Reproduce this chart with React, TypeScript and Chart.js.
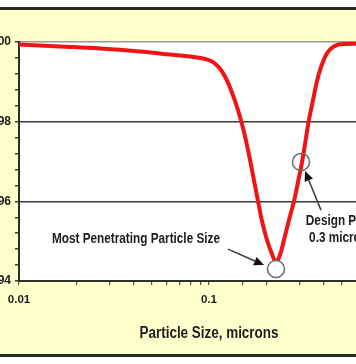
import React, { useEffect, useRef } from "react";
import { Chart, registerables } from "chart.js";
Chart.register(...registerables);

const FONT = '"Liberation Sans", Arial, sans-serif';
const NARROW = 0.84; // horizontal compression to mimic a condensed bold face

// Particle size (microns) and collection efficiency (%)
const particleSizes = [0.01, 0.01644, 0.02669, 0.04335, 0.06233, 0.07943, 0.09299, 0.10246, 0.10885, 0.11565, 0.12288, 0.13055, 0.13871, 0.1456, 0.15283, 0.16042, 0.17042, 0.18108, 0.19007, 0.20195, 0.21456, 0.22519, 0.23636, 0.24808, 0.26367, 0.28023, 0.29413, 0.30872, 0.32209, 0.334, 0.35275, 0.37025, 0.38862, 0.41284, 0.43857, 0.47178, 0.51348, 0.59386, 1.0];
const efficiency = [99.937, 99.887, 99.837, 99.762, 99.686, 99.636, 99.586, 99.523, 99.435, 99.297, 99.084, 98.795, 98.444, 98.117, 97.74, 97.288, 96.66, 96.008, 95.506, 95.029, 94.677, 94.476, 94.652, 95.029, 95.531, 96.008, 96.485, 96.987, 97.515, 97.991, 98.544, 99.021, 99.373, 99.674, 99.837, 99.925, 99.95, 99.955, 99.955];

// Marker circles: most penetrating particle size, design point
const markerSizes = [0.2252, 0.305];
const markerValues = [94.3, 96.99];

const yTickValues = [94, 94.4, 94.8, 95.2, 95.6, 96, 96.4, 96.8, 97.2, 97.6, 98, 98.4, 98.8, 99.2, 99.6, 100];
const yTickLabels = ["94", "96", "98", "100"];
const xTickLabels = ["0.01", "0.1", "1"];

const xTitle = "Particle Size, microns";
const mppsLabel = "Most Penetrating Particle Size";
const designLabels = ["Design Point", "0.3 microns"];

// annotation anchors in data coordinates [x, y]
const mppsLabelPos = [0.01492, 95.05];
const mppsArrow = [0.1259, 94.8, 0.1948, 94.4];
const designLabelPos = [0.5, 95.51, 95.08];
const designArrow = [0.3885, 95.78, 0.3202, 96.76];

function near(a: number, b: number) {
  return Math.abs(a - b) < 1e-6;
}

function narrowText(ctx: CanvasRenderingContext2D, text: string, x: number, y: number, align: "left" | "center") {
  ctx.save();
  ctx.translate(x, y);
  ctx.scale(NARROW, 1);
  ctx.textAlign = align;
  ctx.fillText(text, 0, 0);
  ctx.restore();
}

function drawArrow(ctx: CanvasRenderingContext2D, x1: number, y1: number, x2: number, y2: number) {
  const ang = Math.atan2(y2 - y1, x2 - x1);
  const len = 10;
  const hw = 4.5;
  const bx = x2 - Math.cos(ang) * len;
  const by = y2 - Math.sin(ang) * len;
  ctx.beginPath();
  ctx.moveTo(x1, y1);
  ctx.lineTo(bx, by);
  ctx.stroke();
  ctx.beginPath();
  ctx.moveTo(x2, y2);
  ctx.lineTo(bx - Math.sin(ang) * hw, by + Math.cos(ang) * hw);
  ctx.lineTo(bx + Math.sin(ang) * hw, by - Math.cos(ang) * hw);
  ctx.closePath();
  ctx.fill();
}

const bgPlugin = {
  id: "plotBg",
  beforeDraw(chart: any) {
    const { ctx, chartArea } = chart;
    ctx.save();
    ctx.fillStyle = "#ffffff";
    ctx.fillRect(chartArea.left, chartArea.top, chartArea.right - chartArea.left, chartArea.bottom - chartArea.top);
    ctx.restore();
  },
};

const annotPlugin = {
  id: "annot",
  afterDatasetsDraw(chart: any) {
    const { ctx, chartArea } = chart;
    const x = chart.scales.x;
    const y = chart.scales.y;
    ctx.save();
    ctx.fillStyle = "#1c1c1c";
    ctx.textBaseline = "middle";
    // axis title
    ctx.font = `bold 16px ${FONT}`;
    narrowText(ctx, xTitle, (chartArea.left + chartArea.right) / 2, chartArea.bottom + 53, "center");
    // annotations
    ctx.font = `bold 14px ${FONT}`;
    narrowText(ctx, mppsLabel, x.getPixelForValue(mppsLabelPos[0]), y.getPixelForValue(mppsLabelPos[1]), "left");
    const dx = x.getPixelForValue(designLabelPos[0]);
    narrowText(ctx, designLabels[0], dx, y.getPixelForValue(designLabelPos[1]), "center");
    narrowText(ctx, designLabels[1], dx, y.getPixelForValue(designLabelPos[2]), "center");
    ctx.strokeStyle = "#3a3a3a";
    ctx.fillStyle = "#111111";
    ctx.lineWidth = 1.5;
    drawArrow(ctx, x.getPixelForValue(mppsArrow[0]), y.getPixelForValue(mppsArrow[1]), x.getPixelForValue(mppsArrow[2]), y.getPixelForValue(mppsArrow[3]));
    drawArrow(ctx, x.getPixelForValue(designArrow[0]), y.getPixelForValue(designArrow[1]), x.getPixelForValue(designArrow[2]), y.getPixelForValue(designArrow[3]));
    ctx.restore();
  },
};

export default function App() {
  const ref = useRef<HTMLCanvasElement>(null);
  useEffect(() => {
    if (!ref.current) return;
    Chart.defaults.font.family = FONT;
    const chart = new Chart(ref.current, {
      type: "line",
      data: {
        datasets: [
          {
            data: markerSizes.map((v, i) => ({ x: v, y: markerValues[i] })),
            showLine: false,
            pointRadius: 8.5,
            pointBorderWidth: 1.5,
            pointBorderColor: "#6a6a6a",
            pointBackgroundColor: ["#ffffff", "rgba(255,255,255,0)"],
            order: 0,
          },
          {
            data: particleSizes.map((v, i) => ({ x: v, y: efficiency[i] })),
            borderColor: "#f01414",
            borderWidth: 4,
            pointRadius: 0,
            tension: 0.35,
            fill: false,
            order: 1,
          },
        ],
      },
      options: {
        animation: false,
        responsive: false,
        layout: { padding: { top: 32, right: 20, left: 0, bottom: 0 } },
        plugins: { legend: { display: false }, tooltip: { enabled: false } },
        scales: {
          x: {
            type: "logarithmic",
            min: 0.01,
            max: 1,
            afterFit: (s: any) => {
              s.height = 73;
            },
            grid: { drawOnChartArea: false, tickLength: 4, tickColor: "#555", lineWidth: 1.2 },
            border: { color: "#2e2e2e", width: 2 },
            ticks: {
              autoSkip: false,
              maxRotation: 0,
              padding: 8,
              color: "#1c1c1c",
              font: { size: 11.5, weight: "bold", family: FONT },
              callback: (v: any) => {
                const s = String(Number(v));
                return xTickLabels.includes(s) ? s : "";
              },
            },
          },
          y: {
            min: 94,
            max: 100,
            afterFit: (s: any) => {
              s.width = 40;
            },
            afterBuildTicks: (s: any) => {
              s.ticks = yTickValues.map((v) => ({ value: v }));
            },
            grid: {
              color: (c: any) => {
                const v = c.tick ? c.tick.value : 0;
                if (near(v, 100)) return "#9a9a9a";
                if (near(v, 98) || near(v, 96)) return "#3a3a3a";
                return "rgba(0,0,0,0)";
              },
              lineWidth: 1.5,
              tickColor: "#3a3a3a",
              tickLength: 4,
            },
            border: { color: "#2e2e2e", width: 2 },
            ticks: {
              autoSkip: false,
              padding: 4,
              color: "#1c1c1c",
              font: { size: 12, weight: "bold", family: FONT },
              callback: (v: any) => {
                const n = Number(v);
                const s = String(Math.round(n));
                return near(n, Math.round(n)) && yTickLabels.includes(s) ? s : "";
              },
            },
          },
        },
      },
      plugins: [bgPlugin, annotPlugin],
    } as any);
    return () => chart.destroy();
  }, []);

  return (
    <div style={{ position: "fixed", left: 0, top: 0, width: 356, height: 364, overflow: "hidden", background: "#ffffff" }}>
      <div
        style={{
          position: "absolute",
          left: 0,
          top: 7,
          width: 356,
          height: 344,
          background: "#ffffcc",
          borderTop: "3px solid #2a2a2a",
          borderBottom: "3px solid #2a2a2a",
        }}
      />
      <canvas ref={ref} width={440} height={344} style={{ position: "absolute", left: -21, top: 10, width: 440, height: 344 }} />
    </div>
  );
}
